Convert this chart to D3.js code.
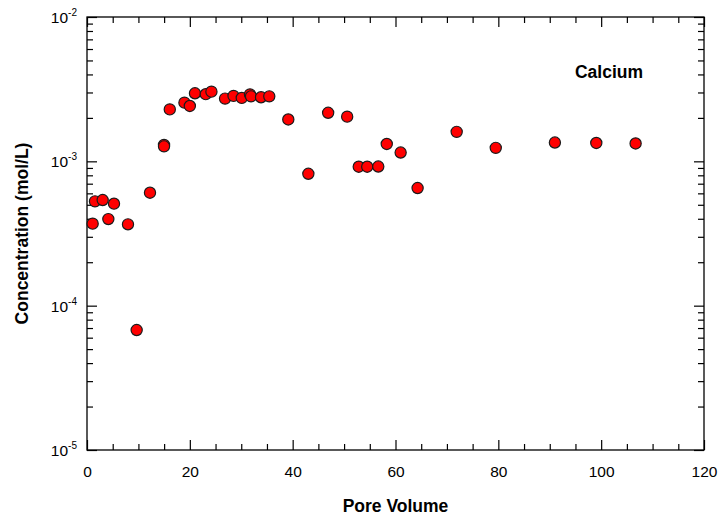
<!DOCTYPE html>
<html><head><meta charset="utf-8">
<script src="https://cdn.jsdelivr.net/npm/d3@7"></script>
<style>
body{margin:0;background:#fff;}
svg{display:block;font-family:"Liberation Sans",Arial,sans-serif;}
</style></head>
<body><svg id="c" width="722" height="519"></svg>
<script>
const poreVolume = [1.1, 1.55, 3.05, 4.15, 5.25, 7.97, 9.66, 12.25, 14.98, 14.98, 16.1, 18.95, 20.0, 21.0, 23.1, 24.2, 26.85, 28.5, 30.1, 31.7, 31.9, 33.85, 35.45, 39.15, 43.05, 46.9, 50.6, 52.85, 54.5, 56.65, 58.3, 61.0, 64.3, 71.9, 79.5, 91.0, 99.05, 106.7];
const calcium = [3.70e-4, 5.28e-4, 5.39e-4, 3.98e-4, 5.09e-4, 3.66e-4, 6.78e-5, 6.06e-4, 1.30e-3, 1.27e-3, 2.29e-3, 2.55e-3, 2.42e-3, 2.96e-3, 2.92e-3, 3.04e-3, 2.72e-3, 2.84e-3, 2.75e-3, 2.91e-3, 2.82e-3, 2.78e-3, 2.82e-3, 1.95e-3, 8.2e-4, 2.17e-3, 2.04e-3, 9.18e-4, 9.18e-4, 9.2e-4, 1.32e-3, 1.15e-3, 6.53e-4, 1.60e-3, 1.24e-3, 1.35e-3, 1.34e-3, 1.33e-3];
const xMajorTicks = [0, 20, 40, 60, 80, 100, 120];
const yMajorExponents = [-5, -4, -3, -2];
const seriesLabel = "Calcium";
const xTitle = "Pore Volume";
const yTitle = "Concentration (mol/L)";

const svg = d3.select("#c");
const L = 87, R = 704, T = 17, B = 450;
const x = d3.scaleLinear().domain([0, 120]).range([L, R]);
const y = d3.scaleLog().domain([1e-5, 1e-2]).range([B, T]);

const xMinor = d3.range(0, 121, 5).filter(v => v % 20 !== 0);
const yMajor = yMajorExponents.map(e => Math.pow(10, e));
const yMinor = [];
yMajorExponents.slice(0, -1).forEach(e => { for (let k = 2; k <= 9; k++) yMinor.push(k * Math.pow(10, e)); });

function styleAxis(g) {
  g.selectAll("path").remove();
  g.selectAll("line").attr("stroke", "#000").attr("stroke-width", 1.2);
}
// bottom
svg.append("g").attr("transform", `translate(0,${B})`)
  .call(d3.axisBottom(x).tickValues(xMajorTicks).tickSize(-10).tickFormat(d3.format("d")).tickPadding(16))
  .call(styleAxis)
  .call(g => g.selectAll("text").attr("font-size", 15.5).attr("fill", "#000").attr("font-family", "Liberation Sans, Arial, sans-serif"));
svg.append("g").attr("transform", `translate(0,${B})`)
  .call(d3.axisBottom(x).tickValues(xMinor).tickSize(-6).tickFormat(""))
  .call(styleAxis);
// top
svg.append("g").attr("transform", `translate(0,${T})`)
  .call(d3.axisTop(x).tickValues(xMajorTicks).tickSize(-10).tickFormat(""))
  .call(styleAxis);
svg.append("g").attr("transform", `translate(0,${T})`)
  .call(d3.axisTop(x).tickValues(xMinor).tickSize(-6).tickFormat(""))
  .call(styleAxis);
// left
svg.append("g").attr("transform", `translate(${L},0)`)
  .call(d3.axisLeft(y).tickValues(yMajor).tickSize(-10).tickFormat(""))
  .call(styleAxis);
svg.append("g").attr("transform", `translate(${L},0)`)
  .call(d3.axisLeft(y).tickValues(yMinor).tickSize(-6).tickFormat(""))
  .call(styleAxis);
// right
svg.append("g").attr("transform", `translate(${R},0)`)
  .call(d3.axisRight(y).tickValues(yMajor).tickSize(-10).tickFormat(""))
  .call(styleAxis);
svg.append("g").attr("transform", `translate(${R},0)`)
  .call(d3.axisRight(y).tickValues(yMinor).tickSize(-6).tickFormat(""))
  .call(styleAxis);

// frame
svg.append("rect").attr("x", L).attr("y", T).attr("width", R - L).attr("height", B - T)
  .attr("fill", "none").attr("stroke", "#000").attr("stroke-width", 1.3);

// y labels with superscripts
yMajorExponents.forEach(e => {
  const t = svg.append("text").attr("x", 77).attr("y", y(Math.pow(10, e)) + 6)
    .attr("text-anchor", "end").attr("font-size", 15.5).attr("fill", "#000");
  t.append("tspan").text("10");
  t.append("tspan").attr("font-size", 10).attr("dy", -7).text(String(e));
});

// points
svg.append("g").selectAll("circle").data(poreVolume.map((p, i) => [p, calcium[i]]))
  .join("circle")
  .attr("cx", d => x(d[0])).attr("cy", d => y(d[1])).attr("r", 5.6)
  .attr("fill", "#ff0000").attr("stroke", "#1a1a1a").attr("stroke-width", 1.2);

// titles
svg.append("text").attr("x", 609).attr("y", 78).attr("text-anchor", "middle")
  .attr("font-size", 17.5).attr("font-weight", "bold").text(seriesLabel);
svg.append("text").attr("x", (L + R) / 2).attr("y", 512).attr("text-anchor", "middle")
  .attr("font-size", 17.5).attr("font-weight", "bold").text(xTitle);
svg.append("text").attr("transform", `translate(28,${(T + B) / 2}) rotate(-90)`).attr("text-anchor", "middle")
  .attr("font-size", 17.5).attr("font-weight", "bold").text(yTitle);
</script></body></html>
